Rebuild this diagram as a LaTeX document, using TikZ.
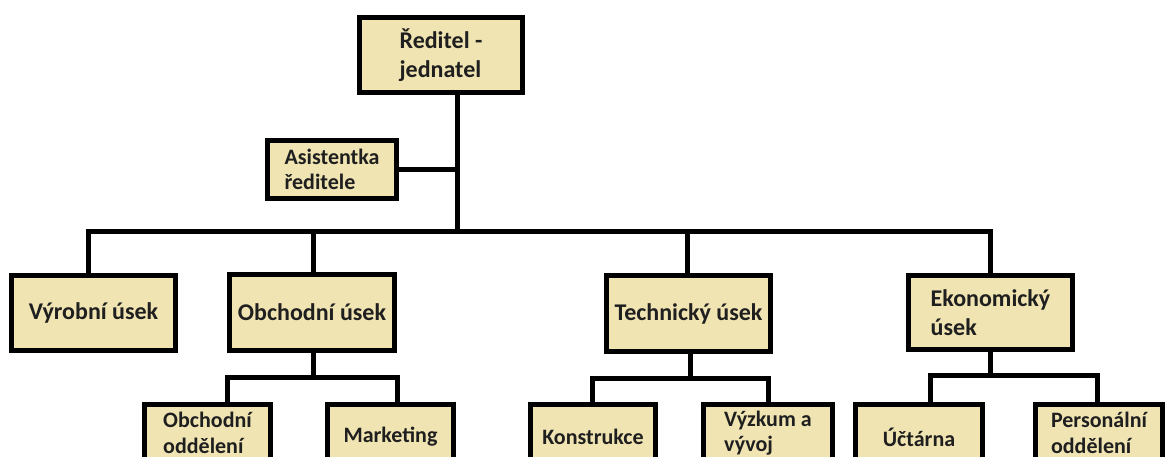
\documentclass[tikz,border=0pt]{standalone}
\usepackage{fontspec}
\setmainfont{Carlito}
\definecolor{boxfill}{RGB}{240,228,178}
\begin{document}
\begin{tikzpicture}[x=1pt,y=-1pt,
  box/.style={draw=black, line width=5pt, fill=boxfill, inner sep=0pt, align=left,
    text=black!88, font=\bfseries\fontsize{24}{29}\selectfont},
  small/.style={font=\bfseries\fontsize{22}{25.5}\selectfont},
  conn/.style={draw=black, line width=5pt, line join=miter}]
\useasboundingbox (0,0) rectangle (1165,457);
\clip (0,0) rectangle (1165,457);
% level 1
\node[box, minimum width=163pt, minimum height=75pt] (dir) at (441,55) {Ředitel -\\jednatel};
\node[box, small, minimum width=129pt, minimum height=58pt] (asst) at (332,169.5) {Asistentka\\ředitele};
% level 2
\node[box, minimum width=164pt, minimum height=75pt] (vyr) at (93.5,313) {Výrobní úsek};
\node[box, minimum width=165pt, minimum height=76pt] (obch) at (312,312.5) {Obchodní úsek};
\node[box, minimum width=164pt, minimum height=76pt] (tech) at (688.5,313.5) {Technický úsek};
\node[box, minimum width=164pt, minimum height=74pt] (eko) at (990.5,312.5) {Ekonomický\\úsek};
% level 3 (cut off by the lower edge)
\node[box, small, minimum width=126pt, minimum height=57pt] (od) at (207.5,433) {Obchodní\\oddělení};
\node[box, small, minimum width=126pt, minimum height=65pt] (mkt) at (390.5,437) {Marketing};
\node[box, small, minimum width=125pt, minimum height=65pt] (kon) at (593,437) {Konstrukce};
\node[box, small, minimum width=129pt, minimum height=57pt] (vyv) at (768,433) {Výzkum a\\vývoj};
\node[box, small, minimum width=127pt, minimum height=65pt] (uct) at (919,437) {Účtárna};
\node[box, small, minimum width=127pt, minimum height=57pt] (pers) at (1099,433) {Personální\\oddělení};
% connectors
\coordinate (j) at (457,232);
\draw[conn] (dir.south -| j) -- (j);
\draw[conn] (asst.east) -- (asst.east -| j);
\draw[conn] (vyr.north -| 88,0) |- (j) -| (eko.north -| 990,0);
\draw[conn] (obch.north -| 313,0) -- (j -| 313,0);
\draw[conn] (tech.north -| 687,0) -- (j -| 687,0);
% sub branches
\draw[conn] (obch.south -| 313,0) -- (313,377);
\draw[conn] (od.north -| 227,0) |- (obch.south |- 0,377) -| (mkt.north -| 397,0);
\draw[conn] (tech.south -| 690,0) -- (690,378);
\draw[conn] (kon.north -| 592,0) |- (tech.south |- 0,378) -| (vyv.north -| 768,0);
\draw[conn] (eko.south) -- (eko.south |- 0,375);
\draw[conn] (uct.north -| 930,0) |- (eko.south |- 0,375) -| (pers.north -| 1097,0);
\end{tikzpicture}
\end{document}
